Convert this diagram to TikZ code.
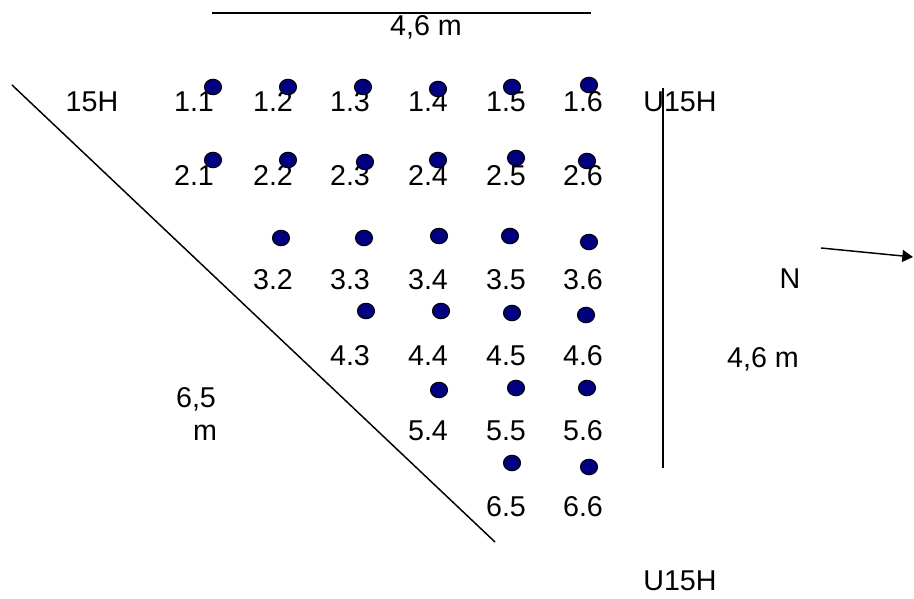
\documentclass[tikz,border=0pt]{standalone}
\usepackage{fontspec}
\setmainfont{Liberation Sans}
\usetikzlibrary{arrows.meta,shapes.geometric}
\definecolor{dotblue}{RGB}{0,0,128}
\begin{document}
\begin{tikzpicture}[x=0.75pt,y=-0.75pt,
  lbl/.style={inner sep=0pt,text height=15.4pt,text depth=0pt,font=\fontsize{21.5}{26}\selectfont},
  pt/.style={ellipse,draw=black,line width=0.8pt,fill=dotblue,inner sep=0pt,minimum width=12.8pt,minimum height=11.6pt},
  edge/.style={line width=1.1pt,black}]
\useasboundingbox (0,0) rectangle (914,599);

% boundary and dimension lines
\coordinate (topL) at (212,13);
\coordinate (topR) at (591,13);
\coordinate (diagA) at (12,85);
\coordinate (diagB) at (495,542);
\coordinate (vertA) at (663,88);
\coordinate (vertB) at (663,468);
\coordinate (arrA) at (821,248);
\coordinate (arrB) at (913,257);
\draw[edge] (topL) -- (topR);
\draw[edge] (diagA) -- (diagB);
\draw[edge,line width=1.4pt] (vertA) -- (vertB);
\draw[edge,-{Triangle[length=8pt,width=9pt]}] (arrA) -- (arrB);

% labels
\node[lbl] (dimTop) at (426,25) {4,6 m};
\node[lbl] (h15) at (92,101) {15H};
\node[lbl] (u15top) at (680,101) {U15H};
\node[lbl] (u15bot) at (680,580) {U15H};
\node[lbl] (north) at (790,278) {N};
\node[lbl] (dimRight) at (763,357) {4,6 m};
\node[lbl] (dimLeftA) at (196,397) {6,5};
\node[lbl] (dimLeftB) at (205,430) {m};

% sample point numbers
\foreach \t/\x/\y in {1.1/194/101,1.2/273/101,1.3/350/101,1.4/428/101,1.5/506/101,1.6/583/101,
  2.1/194/175,2.2/273/175,2.3/350/175,2.4/428/175,2.5/506/175,2.6/583/175,
  3.2/273/279,3.3/350/279,3.4/428/279,3.5/506/279,3.6/583/279,
  4.3/350/355,4.4/428/355,4.5/506/355,4.6/583/355,
  5.4/428/430,5.5/506/430,5.6/583/430,
  6.5/506/506,6.6/583/506}
  \node[lbl] (n\t) at (\x,\y) {\t};

% sample points
\foreach \k/\x/\y in {11/213/87,12/288/87,13/363/87,14/438/89,15/512/87,16/589/85,
  21/213/160,22/288/160,23/365/162,24/438/160,25/516/158,26/587/161,
  32/281/238,33/364/238,34/439/236,35/510/236,36/589/242,
  43/366/311,44/441/311,45/512/313,46/586/315,
  54/439/390,55/516/388,56/587/388,
  65/512/463,66/589/467}
  \node[pt] (p\k) at (\x,\y) {};
\end{tikzpicture}
\end{document}
